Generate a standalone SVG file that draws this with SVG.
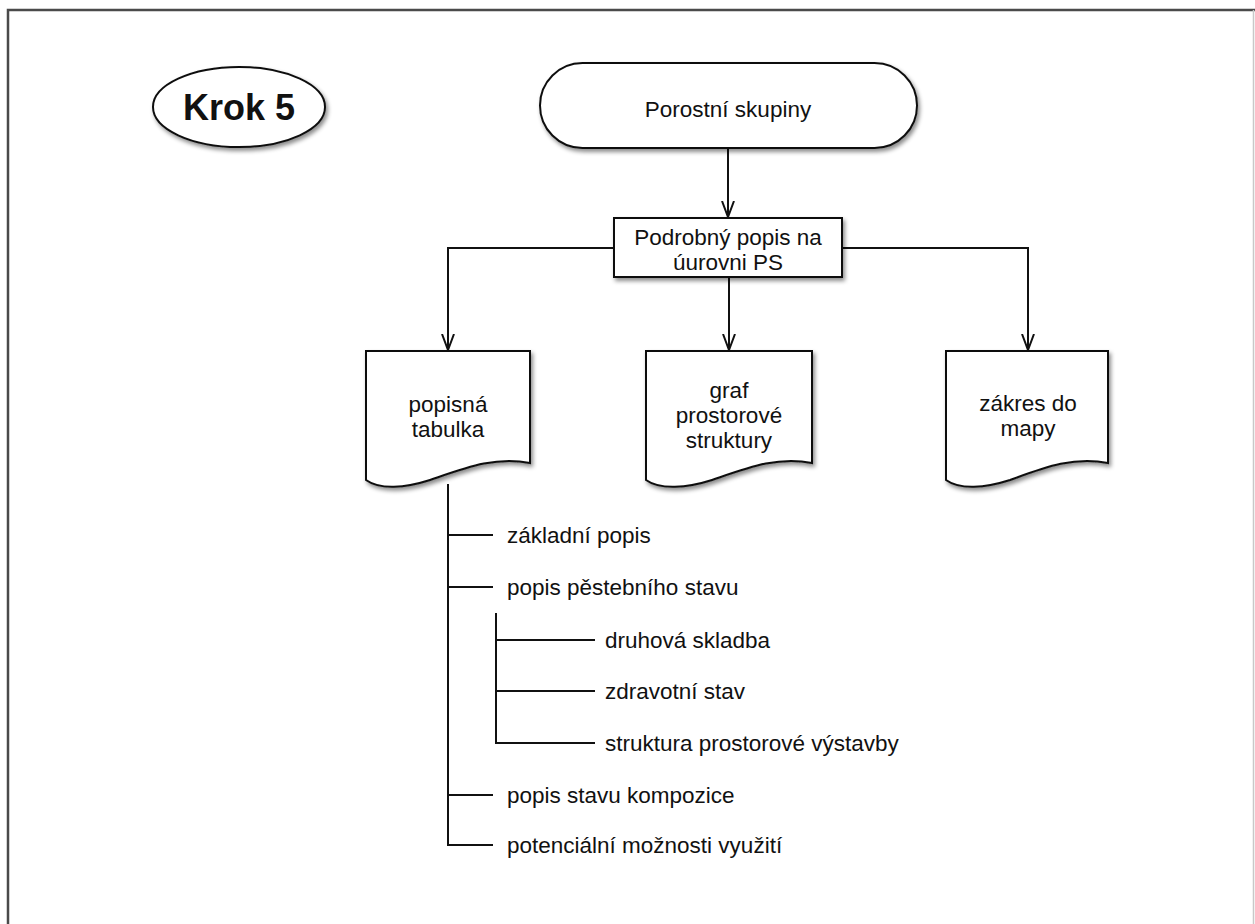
<svg xmlns="http://www.w3.org/2000/svg" width="1255" height="924" viewBox="0 0 1255 924">
<defs>
<style>
.sh{fill:#fff;stroke:#111;stroke-width:2;filter:url(#ds)}
.t{font-family:"Liberation Sans",Arial,sans-serif;font-size:22.5px;fill:#111;text-anchor:middle}
.tl{font-family:"Liberation Sans",Arial,sans-serif;font-size:22.5px;fill:#111;text-anchor:start}
.c{fill:none;stroke:#111;stroke-width:2}
</style>
<filter id="ds" x="-10%" y="-10%" width="130%" height="140%">
<feDropShadow dx="2" dy="3" stdDeviation="2" flood-color="#000" flood-opacity="0.45"/>
</filter>
<marker id="ah" markerUnits="userSpaceOnUse" viewBox="0 0 16 14" refX="16" refY="7" markerWidth="16" markerHeight="14" orient="auto">
<path d="M0,1 L16,7 L0,13" fill="none" stroke="#111" stroke-width="2"/>
</marker>
</defs>
<rect width="1255" height="924" fill="#fff"/>
<path d="M8,924 V10 H1255" fill="none" stroke="#4a4a4a" stroke-width="2.5"/>
<line x1="1253.5" y1="10" x2="1253.5" y2="924" stroke="#c8c8c8" stroke-width="1.5"/>

<g id="connectors">
<line class="c" x1="728" y1="148" x2="728" y2="217" marker-end="url(#ah)"/>
<path class="c" d="M614,248 H448 V350" marker-end="url(#ah)"/>
<path class="c" d="M842,248 H1028 V350" marker-end="url(#ah)"/>
<line class="c" x1="729" y1="277" x2="729" y2="350" marker-end="url(#ah)"/>
<path class="c" d="M448,484 V845 H493"/>
<line class="c" x1="448" y1="535" x2="493" y2="535"/>
<line class="c" x1="448" y1="587" x2="493" y2="587"/>
<line class="c" x1="448" y1="795" x2="493" y2="795"/>
<path class="c" d="M496,613 V743 H595"/>
<line class="c" x1="496" y1="640" x2="595" y2="640"/>
<line class="c" x1="496" y1="691" x2="595" y2="691"/>
</g>

<g id="krok5">
<ellipse class="sh" cx="239" cy="107" rx="86" ry="40"/>
<text x="239" y="120" class="t" style="font-size:36px;font-weight:bold">Krok 5</text>
</g>

<g id="porostni-skupiny">
<rect class="sh" x="540" y="63" width="377" height="85" rx="42.5"/>
<text x="728" y="117" class="t">Porostní skupiny</text>
</g>

<g id="podrobny-popis">
<rect class="sh" x="614" y="218" width="228" height="59"/>
<text x="728" y="245" class="t">Podrobný popis na</text>
<text x="728" y="270" class="t">úurovni PS</text>
</g>

<g id="popisna-tabulka">
<path class="sh" d="M366,351 H530 V463 C495,456 465,468 430,480 C405,488 380,490 366,480 Z"/>
<text x="448" y="412" class="t">popisná</text>
<text x="448" y="437" class="t">tabulka</text>
</g>

<g id="graf">
<path class="sh" d="M646,351 H812 V463 C777,456 747,468 712,480 C687,488 660,490 646,480 Z"/>
<text x="729" y="398" class="t">graf</text>
<text x="729" y="423" class="t">prostorové</text>
<text x="729" y="448" class="t">struktury</text>
</g>

<g id="zakres">
<path class="sh" d="M946,351 H1108 V463 C1073,456 1043,468 1010,480 C985,488 960,490 946,480 Z"/>
<text x="1028" y="411" class="t">zákres do</text>
<text x="1028" y="436" class="t">mapy</text>
</g>

<g id="zakladni-popis"><text x="507" y="543" class="tl">základní popis</text></g>
<g id="pestebni-stav"><text x="507" y="595" class="tl">popis pěstebního stavu</text></g>
<g id="druhova-skladba"><text x="605" y="648" class="tl">druhová skladba</text></g>
<g id="zdravotni-stav"><text x="605" y="699" class="tl">zdravotní stav</text></g>
<g id="struktura"><text x="605" y="751" class="tl">struktura prostorové výstavby</text></g>
<g id="kompozice"><text x="507" y="803" class="tl">popis stavu kompozice</text></g>
<g id="vyuziti"><text x="507" y="853" class="tl">potenciální možnosti využití</text></g>
</svg>
